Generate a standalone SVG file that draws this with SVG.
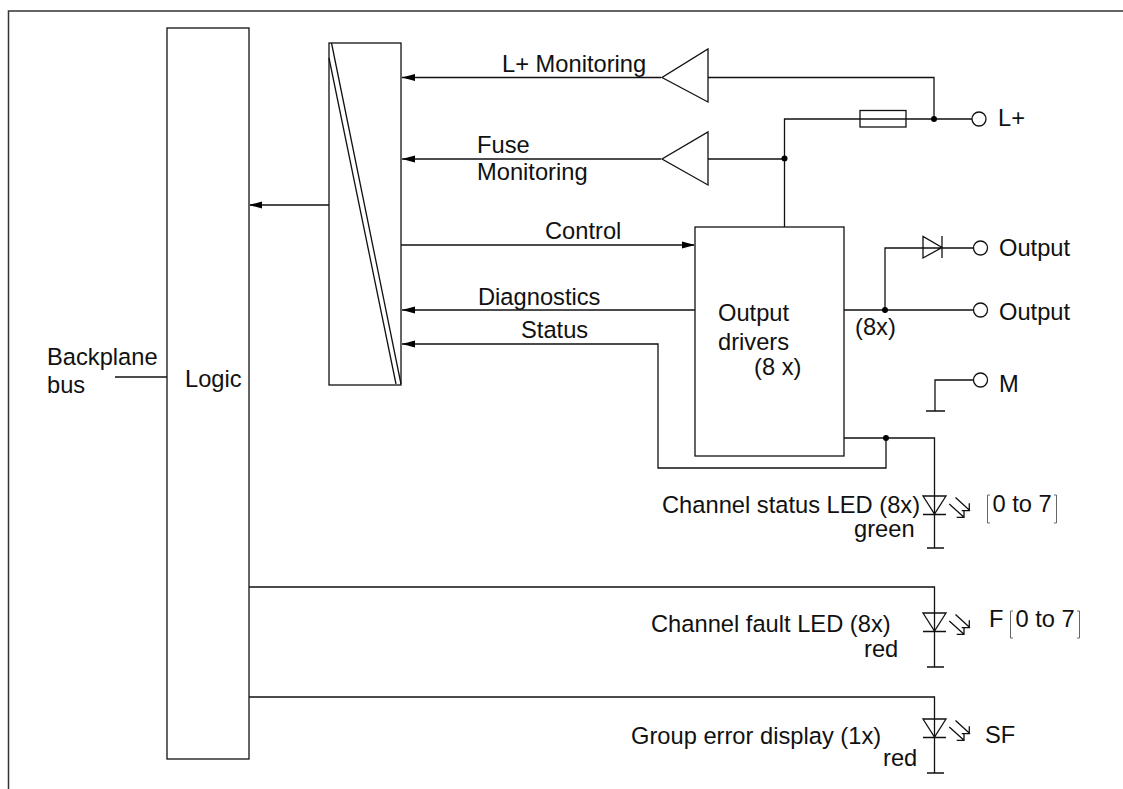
<svg xmlns="http://www.w3.org/2000/svg" width="1123" height="789" viewBox="0 0 1123 789">
<style>
.l{fill:none;stroke:#111;stroke-width:1.3}
.b{fill:#fff;stroke:#111;stroke-width:1.3}
.g{fill:none;stroke:#666;stroke-width:1}
.t{font-family:"Liberation Sans",Arial,sans-serif;font-size:23.700px;fill:#111}
.d{fill:#000}
</style>
<defs>
<g id="led">
<path class="l" d="M-11.500 0H11.500L0 18ZM-11.500 18.500H11.500"/>
<path class="l" d="M21 1.500L35.500 14.700M34.800 7.300V14.700H27.200M14.800 8L29.500 21.300M29.500 14.700V21.300H22.200"/>
</g>
</defs>
<rect width="1123" height="789" fill="#fff"/>
<path id="frame" d="M8.500 789V11H1123" fill="none" stroke="#333" stroke-width="1.500"/>
<g id="connectors">
<path class="l" d="M115 377H167"/>
<path class="l" d="M329 205H250"/>
<path class="l" d="M661 77.500H402"/>
<path class="l" d="M661 159H402"/>
<path class="l" d="M401 245H694"/>
<path class="l" d="M695 310H402"/>
<path class="l" d="M402 344H658V468H886V438"/>
<path class="l" d="M708 77.500H934V119"/>
<path class="l" d="M708 159H784"/>
<path class="l" d="M784.500 227V119H860M906 119H972"/>
<path class="l" d="M844 310H973.500M885 310V248H923M942 248H973.500"/>
<path class="l" d="M973 380H935V411M926 411H945"/>
<path class="l" d="M844 438H934.500V548M927 548H944"/>
<path class="l" d="M249 587H934.500V667M927 667H944"/>
<path class="l" d="M249 697H934.500V773M927 773H944"/>
<path d="M249 205L262 201.500V208.500Z" class="d"/>
<path d="M402 77.500L415 74V81Z" class="d"/>
<path d="M402 159L415 155.500V162.500Z" class="d"/>
<path d="M695 245L682 241.500V248.500Z" class="d"/>
<path d="M402 310L415 306.500V313.500Z" class="d"/>
<path d="M402 344L415 340.500V347.500Z" class="d"/>
<circle class="d" cx="934" cy="119" r="3"/>
<circle class="d" cx="784.500" cy="158.500" r="3"/>
<circle class="d" cx="885" cy="310" r="3"/>
<circle class="d" cx="886" cy="438" r="3"/>
</g>
<g id="logic"><rect class="b" x="167" y="28" width="82" height="731"/><text class="t" x="185" y="387">Logic</text></g>
<g id="converter"><rect class="b" x="329" y="43" width="72" height="342"/><path class="l" d="M331.500 43L401 384M329 58L396 384"/></g>
<g id="backplane"><text class="t" x="47" y="365">Backplane</text><text class="t" x="47" y="393">bus</text></g>
<g id="amp-lplus"><path class="b" d="M708 49V102L662 77.500Z"/></g>
<g id="amp-fuse"><path class="b" d="M708 132V185L662 159Z"/></g>
<g id="fuse"><rect class="b" x="860" y="110.500" width="46" height="16.500"/><path class="l" d="M860 119H906"/></g>
<g id="term-lplus"><circle class="b" cx="979" cy="119" r="7"/><text class="t" x="998" y="126">L+</text></g>
<g id="drivers"><rect class="b" x="695" y="227" width="149" height="229"/><text class="t" x="718" y="321">Output</text><text class="t" x="718" y="350">drivers</text><text class="t" x="754" y="375">(8 x)</text></g>
<g id="diode"><path class="l" d="M923 236.500V258L942 247.500ZM942 236V258M923 248H942"/></g>
<g id="term-out1"><circle class="b" cx="980.500" cy="248" r="7"/><text class="t" x="999" y="256">Output</text></g>
<g id="term-out2"><circle class="b" cx="980.500" cy="310" r="7"/><text class="t" x="999" y="320">Output</text></g>
<g id="term-m"><circle class="b" cx="980.500" cy="380" r="7"/><text class="t" x="999" y="392">M</text></g>
<g id="labels">
<text class="t" x="502" y="71.500">L+ Monitoring</text>
<text class="t" x="477" y="153">Fuse</text>
<text class="t" x="477" y="180">Monitoring</text>
<text class="t" x="545" y="239">Control</text>
<text class="t" x="478" y="305">Diagnostics</text>
<text class="t" x="521" y="338">Status</text>
<text class="t" x="855" y="335">(8x)</text>
</g>
<g id="led-status"><use href="#led" x="934.500" y="496"/><text class="t" x="662" y="513">Channel status LED (8x)</text><text class="t" x="854" y="537">green</text><text class="t" x="992.500" y="512">0 to 7</text><path class="g" d="M990 495H987.500V523H990M1054 495H1056.500V523H1054"/></g>
<g id="led-fault"><use href="#led" x="934.500" y="613"/><text class="t" x="651" y="631.500">Channel fault LED (8x)</text><text class="t" x="864" y="657">red</text><text class="t" x="989" y="627">F</text><text class="t" x="1015.500" y="627">0 to 7</text><path class="g" d="M1013 611H1010.500V638H1013M1077 611H1079.500V638H1077"/></g>
<g id="led-group"><use href="#led" x="934.500" y="719"/><text class="t" x="631" y="744">Group error display (1x)</text><text class="t" x="883" y="766">red</text><text class="t" x="985" y="743">SF</text></g>
</svg>
